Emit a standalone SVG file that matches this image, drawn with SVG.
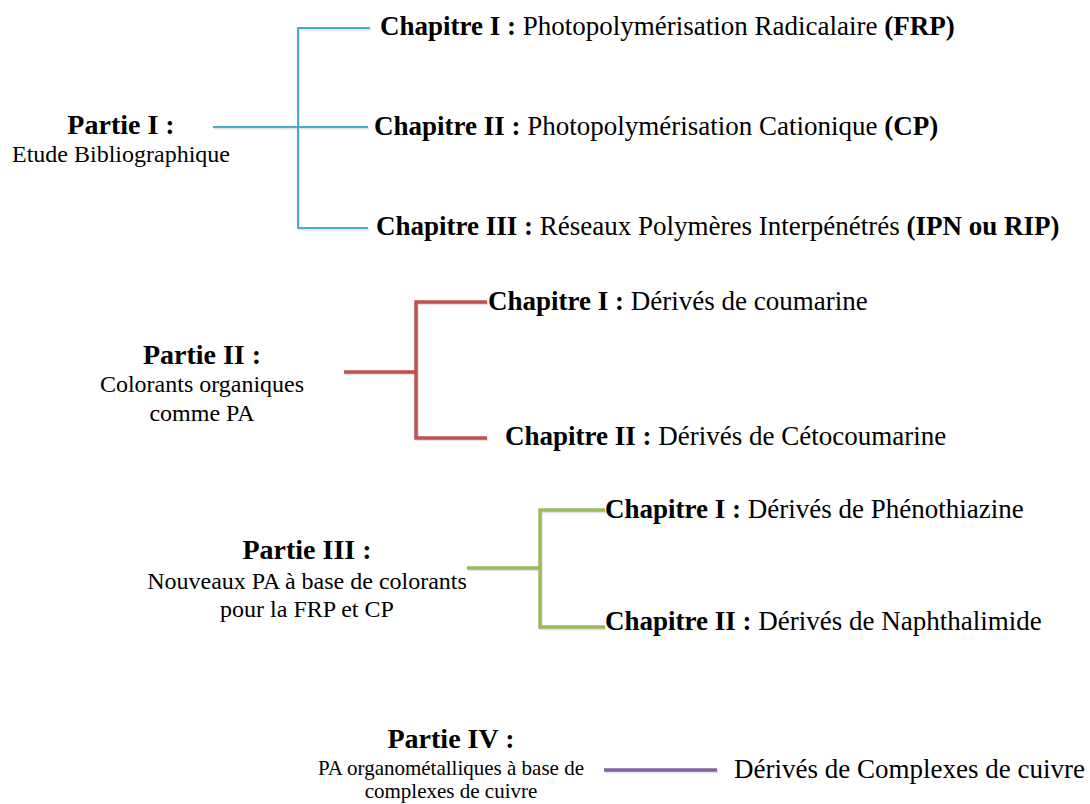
<svg xmlns="http://www.w3.org/2000/svg" width="1090" height="804" viewBox="0 0 1090 804">
<defs>
<style>
.ch{font-size:27px}
.b{font-weight:bold}
.pt{font-size:28px;font-weight:bold;text-anchor:middle}
.sub{font-size:24px;text-anchor:middle}
.sm{font-size:21px;text-anchor:middle}
.ln{fill:none;stroke-linejoin:miter;stroke-linecap:butt}
.blue{stroke:#4bacc6;stroke-width:2}
.red{stroke:#c0504d;stroke-width:3.5}
.green{stroke:#9bbb59;stroke-width:3.5}
.purple{stroke:#8064a2;stroke-width:3.5}
.sh{stroke:#000;stroke-opacity:0.12}
</style>
</defs>
<rect width="1090" height="804" fill="#fff"/>
<g id="connectors">
<g transform="translate(1,1.5)" class="ln sh">
<path d="M213 127H368M370 28H298V228H368" stroke-width="2"/>
<path d="M344 372H416M487 302H416V438H487" stroke-width="3.5"/>
<path d="M467 568H540M605 510H540V627H605" stroke-width="3.5"/>
<path d="M604 770H717" stroke-width="3.5"/>
</g>
<path class="ln blue" d="M213 127H368M370 28H298V228H368"/>
<path class="ln red" d="M344 372H416M487 302H416V438H487"/>
<path class="ln green" d="M467 568H540M605 510H540V627H605"/>
<path class="ln purple" d="M604 770H717"/>
</g>
<g font-family="Liberation Serif" fill="#000">
<g id="partie1">
<text class="pt" x="121" y="134">Partie I :</text>
<text class="sub" x="121" y="162">Etude Bibliographique</text>
</g>
<g id="p1c1"><text class="ch" x="380" y="35"><tspan class="b">Chapitre I :</tspan> Photopolymérisation Radicalaire <tspan class="b">(FRP)</tspan></text></g>
<g id="p1c2"><text class="ch" x="374" y="135"><tspan class="b">Chapitre II :</tspan> Photopolymérisation Cationique <tspan class="b">(CP)</tspan></text></g>
<g id="p1c3"><text class="ch" x="376" y="235"><tspan class="b">Chapitre III :</tspan> Réseaux Polymères Interpénétrés <tspan class="b">(IPN ou RIP)</tspan></text></g>
<g id="partie2">
<text class="pt" x="202" y="364">Partie II :</text>
<text class="sub" x="202" y="392">Colorants organiques</text>
<text class="sub" x="202" y="421">comme PA</text>
</g>
<g id="p2c1"><text class="ch" x="488" y="310"><tspan class="b">Chapitre I  :</tspan> Dérivés de coumarine</text></g>
<g id="p2c2"><text class="ch" x="505" y="445"><tspan class="b">Chapitre II :</tspan> Dérivés de Cétocoumarine</text></g>
<g id="partie3">
<text class="pt" x="307" y="559">Partie III :</text>
<text class="sub" x="307" y="589">Nouveaux PA à base de colorants</text>
<text class="sub" x="307" y="617">pour la FRP et CP</text>
</g>
<g id="p3c1"><text class="ch" x="605" y="518"><tspan class="b">Chapitre I :</tspan> Dérivés de Phénothiazine</text></g>
<g id="p3c2"><text class="ch" x="605" y="630"><tspan class="b">Chapitre II :</tspan> Dérivés de Naphthalimide</text></g>
<g id="partie4">
<text class="pt" x="451" y="748">Partie IV :</text>
<text class="sm" x="451" y="775">PA organométalliques à base de</text>
<text class="sm" x="451" y="798">complexes de cuivre</text>
</g>
<g id="p4c1"><text class="ch" x="734" y="778">Dérivés de Complexes de cuivre</text></g>
</g>
</svg>
